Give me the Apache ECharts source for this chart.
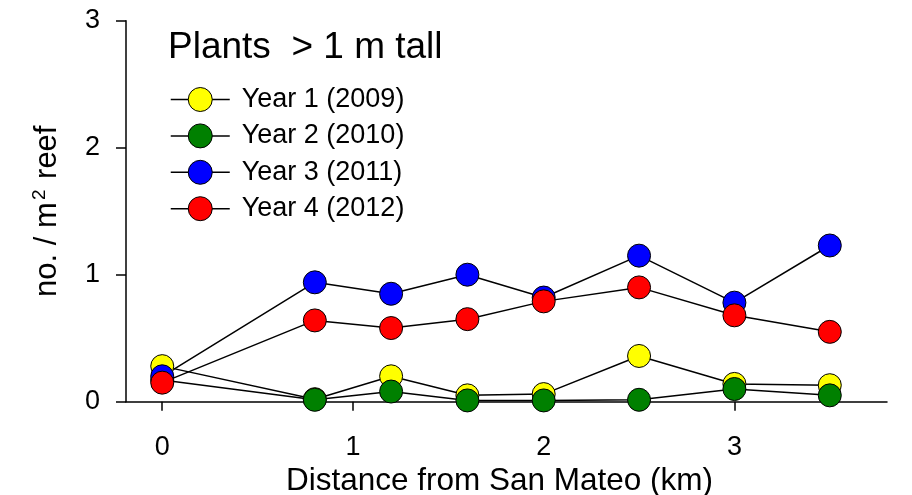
<!DOCTYPE html>
<html>
<head>
<meta charset="utf-8">
<script src="https://cdn.jsdelivr.net/npm/echarts@6/dist/echarts.min.js"></script>
<style>
  html, body { margin: 0; padding: 0; background: #fff; }
  #chart { width: 912px; height: 495px; }
</style>
</head>
<body>
<div id="chart"></div>
<script>
// Distance from San Mateo (km) for each survey site
const distances = [0, 0.8, 1.2, 1.6, 2.0, 2.5, 3.0, 3.5];

// Density of plants > 1 m tall (no. / m² reef), per year
const year1 = [0.28, 0.02, 0.20, 0.05, 0.06, 0.36, 0.14, 0.13];
const year2 = [0.17, 0.015, 0.08, 0.01, 0.01, 0.015, 0.10, 0.05];
const year3 = [0.20, 0.94, 0.85, 1.00, 0.82, 1.15, 0.78, 1.23];
const year4 = [0.15, 0.64, 0.58, 0.65, 0.79, 0.90, 0.68, 0.55];

const seriesNames = ['Year 1 (2009)', 'Year 2 (2010)', 'Year 3 (2011)', 'Year 4 (2012)'];
const seriesColors = ['#ffff00', '#008000', '#0000ff', '#ff0000'];
const seriesValues = [year1, year2, year3, year4];

const xTicks = [0, 1, 2, 3];
const yTicks = [0, 1, 2, 3];

const FONT = 'Liberation Sans, Arial, sans-serif';

const chart = echarts.init(document.getElementById('chart'), null, { renderer: 'canvas' });

const series = seriesNames.map((name, i) => ({
  name: name,
  type: 'line',
  data: distances.map((d, j) => [d, seriesValues[i][j]]),
  symbol: 'circle',
  symbolSize: 23,
  clip: false,
  lineStyle: { color: '#000', width: 1.5 },
  itemStyle: { color: seriesColors[i], borderColor: '#000', borderWidth: 1 },
  emphasis: { disabled: true },
  animation: false
}));

chart.setOption({
  animation: false,
  title: {
    text: 'Plants  > 1 m tall',
    left: 163,
    top: 24,
    textStyle: { fontFamily: FONT, fontSize: 37, fontWeight: 'normal', color: '#000' }
  },
  legend: {
    orient: 'vertical',
    left: 165,
    top: 81,
    itemWidth: 59,
    itemHeight: 30,
    itemGap: 9.4,
    data: seriesNames,
    itemStyle: { borderColor: '#000', borderWidth: 1 },
    lineStyle: { color: '#000', width: 1.5 },
    textStyle: { fontFamily: FONT, fontSize: 27, color: '#000', padding: [0, 0, 0, 7] }
  },
  grid: { left: 126, right: 25, top: 20.7, bottom: 93.3, containLabel: false, outerBoundsMode: 'none' },
  xAxis: {
    type: 'value',
    min: -0.19,
    max: 3.8,
    name: 'Distance from San Mateo (km)',
    nameLocation: 'middle',
    nameGap: 60,
    nameTextStyle: { fontFamily: FONT, fontSize: 31.5, color: '#000', padding: [0, 14, 0, 0] },
    splitLine: { show: false },
    axisLine: { onZero: false, lineStyle: { color: '#000', width: 1.5 } },
    axisTick: { customValues: xTicks, length: 9, lineStyle: { color: '#000', width: 1.5 } },
    axisLabel: {
      customValues: xTicks,
      margin: 32,
      fontFamily: FONT, fontSize: 27, color: '#000',
      formatter: v => String(v)
    }
  },
  yAxis: {
    type: 'value',
    min: 0,
    max: 3,
    interval: 1,
    name: '{a|no. / m}{s|2}{a| reef}',
    nameLocation: 'middle',
    nameGap: 62,
    nameTextStyle: {
      fontFamily: FONT, fontSize: 31, color: '#000',
      rich: {
        a: { fontFamily: FONT, fontSize: 31, color: '#000', lineHeight: 34 },
        s: { fontFamily: FONT, fontSize: 19, color: '#000', lineHeight: 34, verticalAlign: 'top', padding: [0, 2, 0, 2] }
      }
    },
    splitLine: { show: false },
    axisLine: { onZero: false, lineStyle: { color: '#000', width: 1.5 } },
    axisTick: { customValues: yTicks, length: 10, lineStyle: { color: '#000', width: 1.5 } },
    axisLabel: {
      customValues: yTicks,
      margin: 26,
      fontFamily: FONT, fontSize: 27, color: '#000',
      formatter: v => String(v)
    }
  },
  series: series
});
</script>
</body>
</html>
